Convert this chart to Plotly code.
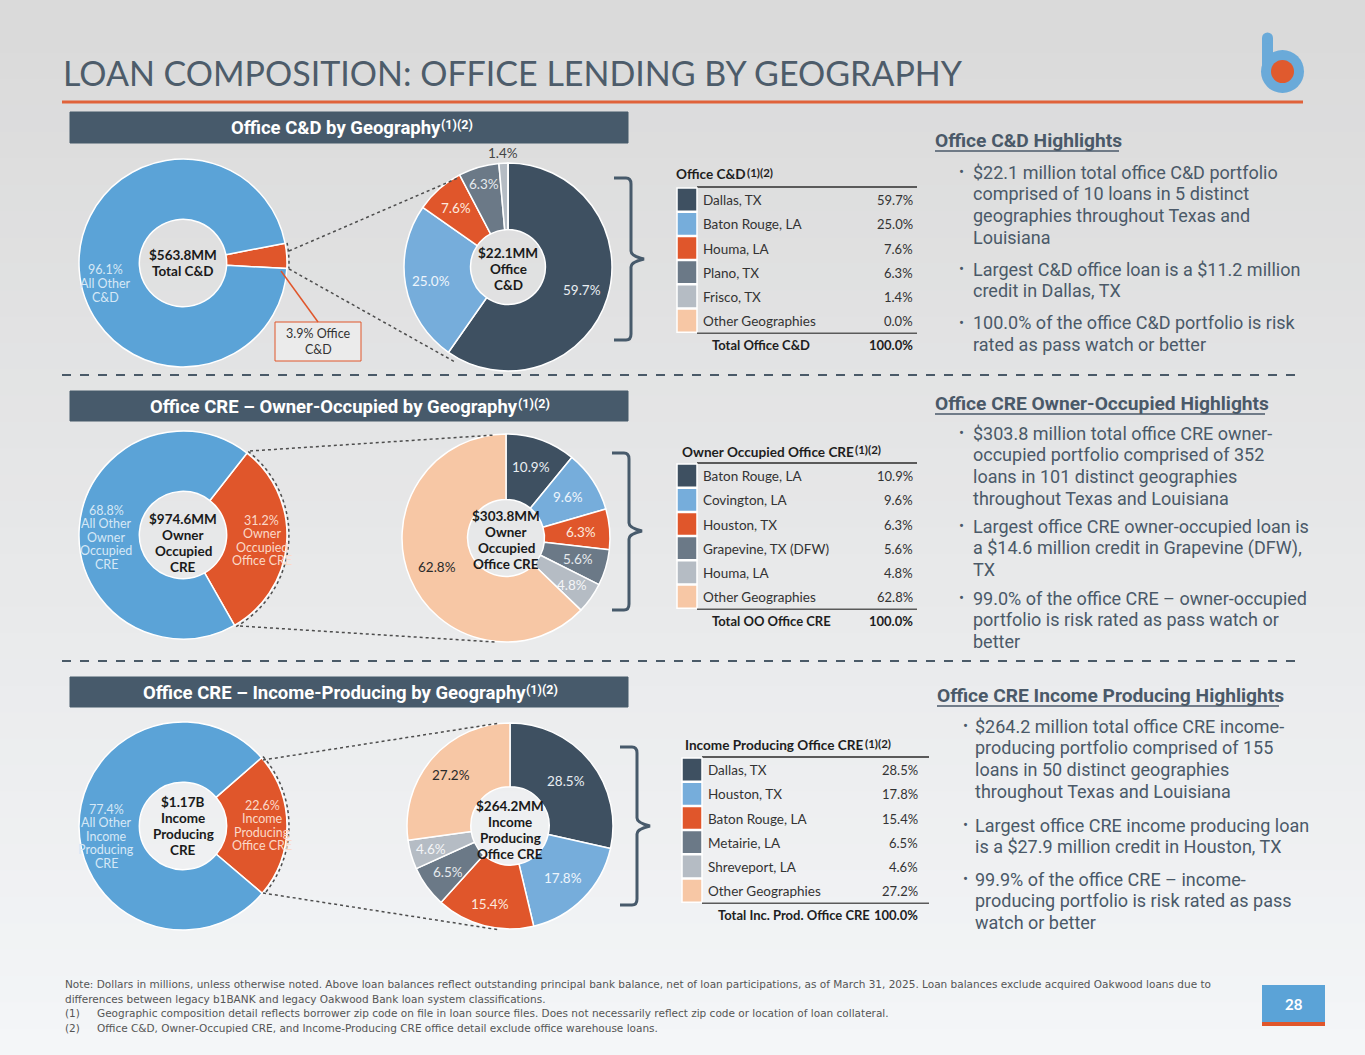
import math
import plotly.graph_objects as go

W, H = 1365, 1055

# ---------------- DATA ----------------
cd_total_labels = ["Office C&D", "All Other C&D"]
cd_total_values = [3.9, 96.1]
cd_geo_labels = ["Dallas, TX", "Baton Rouge, LA", "Houma, LA", "Plano, TX", "Frisco, TX", "Other Geographies"]
cd_geo_values = [59.7, 25.0, 7.6, 6.3, 1.4, 0.0]

oo_total_labels = ["Owner Occupied Office CRE", "All Other Owner Occupied CRE"]
oo_total_values = [31.2, 68.8]
oo_geo_labels = ["Baton Rouge, LA", "Covington, LA", "Houston, TX", "Grapevine, TX (DFW)", "Houma, LA", "Other Geographies"]
oo_geo_values = [10.9, 9.6, 6.3, 5.6, 4.8, 62.8]

ip_total_labels = ["Income Producing Office CRE", "All Other Income Producing CRE"]
ip_total_values = [22.6, 77.4]
ip_geo_labels = ["Dallas, TX", "Houston, TX", "Baton Rouge, LA", "Metairie, LA", "Shreveport, LA", "Other Geographies"]
ip_geo_values = [28.5, 17.8, 15.4, 6.5, 4.6, 27.2]

cd_center = "$563.8MM<br>Total C&D"
cd_geo_center = "$22.1MM<br>Office<br>C&D"
oo_center = "$974.6MM<br>Owner<br>Occupied<br>CRE"
oo_geo_center = "$303.8MM<br>Owner<br>Occupied<br>Office CRE"
ip_center = "$1.17B<br>Income<br>Producing<br>CRE"
ip_geo_center = "$264.2MM<br>Income<br>Producing<br>Office CRE"

cd_left_text = ["", "96.1%<br>All Other<br>C&D"]
cd_callout = "3.9% Office<br>C&D"
oo_left_text = ["31.2%<br>Owner<br>Occupied<br>Office CRE", "68.8%<br>All Other<br>Owner<br>Occupied<br>CRE"]
ip_left_text = ["22.6%<br>Income<br>Producing<br>Office CRE", "77.4%<br>All Other<br>Income<br>Producing<br>CRE"]

cd_highlights = [
    ["$22.1 million total office C&D portfolio", "comprised of 10 loans in 5 distinct",
     "geographies throughout Texas and", "Louisiana"],
    ["Largest C&D office loan is a $11.2 million", "credit in Dallas, TX"],
    ["100.0% of the office C&D portfolio is risk", "rated as pass watch or better"],
]
oo_highlights = [
    ["$303.8 million total office CRE owner-", "occupied portfolio comprised of 352",
     "loans in 101 distinct geographies", "throughout Texas and Louisiana"],
    ["Largest office CRE owner-occupied loan is", "a $14.6 million credit in Grapevine (DFW),", "TX"],
    ["99.0% of the office CRE \u2013 owner-occupied", "portfolio is risk rated as pass watch or", "better"],
]
ip_highlights = [
    ["$264.2 million total office CRE income-", "producing portfolio comprised of 155",
     "loans in 50 distinct geographies", "throughout Texas and Louisiana"],
    ["Largest office CRE income producing loan", "is a $27.9 million credit in Houston, TX"],
    ["99.9% of the office CRE \u2013 income-", "producing portfolio is risk rated as pass", "watch or better"],
]

footnotes = [
    ("", "Note: Dollars in millions, unless otherwise noted. Above loan balances reflect outstanding principal bank balance, net of loan participations, as of March 31, 2025. Loan balances exclude acquired Oakwood loans due to"),
    ("", "differences between legacy b1BANK and legacy Oakwood Bank loan system classifications."),
    ("(1)", "Geographic composition detail reflects borrower zip code on file in loan source files. Does not necessarily reflect zip code or location of loan collateral."),
    ("(2)", "Office C&D, Owner-Occupied CRE, and Income-Producing CRE office detail exclude office warehouse loans."),
]

# ---------------- STYLE ----------------
DARK = "#3e5061"
LBLUE = "#76addb"
BLUE_L = "#5ba3d7"
ORANGE = "#e0562b"
SLATE = "#6b7987"
LGREY = "#b5bcc4"
PEACH = "#f7c7a5"
GEO_COLORS = [DARK, LBLUE, ORANGE, SLATE, LGREY, PEACH]
GEO_TXT = ["#e9eef2", "#eef5fb", "#fde9de", "#e6eaee", "#f4f5f7", "#2b2b2b"]
HEAD = "#475a6b"
TXT = "#4a5968"
FONT = "Lato"
RFONT = "Roboto"


def X(px):
    return px / W


def Y(py):
    return 1 - py / H


fig = go.Figure()
shapes = []
anns = []

n = 40
c0 = (218, 218, 218)
c1 = (244, 246, 248)
for i in range(n):
    t = i / (n - 1)
    col = "rgb(%d,%d,%d)" % tuple(int(c0[k] + (c1[k] - c0[k]) * t) for k in range(3))
    shapes.append(dict(type="rect", xref="paper", yref="paper", layer="below",
                       x0=0, x1=1, y0=Y(H * (i + 1) / n + 1), y1=Y(H * i / n),
                       fillcolor=col, line=dict(width=0)))


def ann(x, y, text, size=12, color="#222", family=FONT, xa="left", ya="middle", weight="normal", align="center"):
    anns.append(dict(x=X(x), y=Y(y), xref="paper", yref="paper", text=text, showarrow=False,
                     xanchor=xa, yanchor=ya, align=align,
                     font=dict(size=size, color=color, family=family, weight=weight)))


def mtext(x, cy, text, spacing, **kw):
    lines = text.split("<br>")
    y0 = cy - (len(lines) - 1) * spacing / 2
    for j, line in enumerate(lines):
        ann(x, y0 + j * spacing, line, **kw)


def add_pie(values, colors, cx, cy, r, hole, rotation, names):
    fig.add_trace(go.Pie(
        values=values, labels=names, marker=dict(colors=colors, line=dict(color="white", width=1.5)),
        hole=hole, sort=False, direction="clockwise", rotation=rotation,
        textinfo="none", hoverinfo="label+value", showlegend=False,
        domain=dict(x=[X(cx - r), X(cx + r)], y=[Y(cy + r), Y(cy - r)]),
    ))


def label_pos(values, rotation, cx, cy, r, factors):
    tot = sum(values)
    cum = rotation
    out = []
    for v, f in zip(values, factors):
        a = cum + v / tot * 180
        cum += v / tot * 360
        ar = math.radians(a)
        out.append((cx + f * r * math.sin(ar), cy - f * r * math.cos(ar)))
    return out


def dotted_arc(cx, cy, r, a0, a1):
    pts = []
    for i in range(25):
        a = math.radians(a0 + (a1 - a0) * i / 24)
        pts.append((cx + r * math.sin(a), cy - r * math.cos(a)))
    p = "M %f %f " % (X(pts[0][0]), Y(pts[0][1])) + " ".join("L %f %f" % (X(a), Y(b)) for a, b in pts[1:])
    shapes.append(dict(type="path", xref="paper", yref="paper", path=p,
                       line=dict(color="#4d4d4d", width=1.5, dash="dot")))


def dline(x0, y0, x1, y1, color="#4d4d4d", width=1.5, dash="dot"):
    shapes.append(dict(type="line", xref="paper", yref="paper", x0=X(x0), y0=Y(y0), x1=X(x1), y1=Y(y1),
                       line=dict(color=color, width=width, dash=dash)))


def rect(x0, y0, x1, y1, fill, lc=None, lw=0):
    shapes.append(dict(type="rect", xref="paper", yref="paper", x0=X(x0), y0=Y(y1), x1=X(x1), y1=Y(y0),
                       fillcolor=fill, line=dict(color=lc or fill, width=lw)))


def bracket(x0, xv, xt, y0, y1, ym):
    p = ("M {a} {b} L {c} {b} Q {d} {b} {d} {e} L {d} {f} Q {d} {g} {h} {i} Q {d} {j} {d} {k} "
         "L {d} {l} Q {d} {m} {c} {m} L {a} {m}").format(
        a=X(x0), b=Y(y0), c=X(xv - 5), d=X(xv), e=Y(y0 + 6), f=Y(ym - 8), g=Y(ym - 3),
        h=X(xt), i=Y(ym), j=Y(ym + 3), k=Y(ym + 8), l=Y(y1 - 6), m=Y(y1))
    shapes.append(dict(type="path", xref="paper", yref="paper", path=p, line=dict(color=HEAD, width=3)))


def header(y0, y1, text, x_end):
    shapes.append(dict(type="rect", xref="paper", yref="paper", x0=X(70), x1=X(628), y0=Y(y1), y1=Y(y0),
                       fillcolor=HEAD, line=dict(color=HEAD, width=1)))
    ym = (y0 + y1) / 2 + 1
    ann(x_end, ym, text, size=18.5, color="white", family=RFONT, xa="right", weight="bold")
    ann(x_end - 4, ym - 4, "(1)(2)", size=12.5, color="white", family=RFONT, xa="left", weight="bold")


def table(sx0, sx1, top, rh, title, ty, t_end, labels, values, total_label, total_x, pr, rx1):
    ann(t_end, ty, title, size=13.6, color="#1e1e1e", xa="right", weight="bold")
    ann(t_end - 3, ty - 2, "(1)(2)", size=11.5, color="#1e1e1e", xa="left", weight="bold")
    dline(sx1, top, rx1, top, color="#5a5a5a", width=2, dash="solid")
    for i, (lab, v) in enumerate(zip(labels, values)):
        y0 = top + i * rh
        rect(sx0, y0 + 1, sx1, y0 + rh, GEO_COLORS[i], "white", 1.5)
        ann(sx1 + 4, y0 + rh / 2 + 1, lab, size=13.5, color="#333")
        ann(pr, y0 + rh / 2 + 1, "%.1f%%" % v, size=13, color="#333", xa="right")
    bot = top + 6 * rh
    dline(sx1, bot + 1, rx1, bot + 1, color="#5a5a5a", width=1.5, dash="solid")
    ann(total_x, bot + 13, total_label, size=13, color="#1e1e1e", weight="bold")
    ann(pr, bot + 13, "%.1f%%" % sum(values), size=13, color="#1e1e1e", xa="right", weight="bold")


def highlights(hx, hy, title, ul_end, items, bx, tx, starts):
    ann(hx, hy, title, size=19.2, color=TXT, family=RFONT, weight="bold")
    dline(hx + 2, hy + 11, ul_end, hy + 11, color=TXT, width=1.5, dash="solid")
    lh = 21.8
    for lines, y in zip(items, starts):
        ann(bx, y, "\u2022", size=15, color=TXT, family=RFONT)
        for j, line in enumerate(lines):
            ann(tx, y + j * lh, line, size=18, color=TXT, family=RFONT)


# ---------------- TITLE / LOGO ----------------
ann(61, 72, "LOAN COMPOSITION: OFFICE LENDING BY GEOGRAPHY", size=34, color="#4d5c6a", family="Lato")
dline(62, 102, 1303, 102, color="#e0623a", width=3, dash="solid")
shapes.append(dict(type="circle", xref="paper", yref="paper", x0=X(1261), x1=X(1304), y0=Y(93), y1=Y(50),
                   fillcolor="#6aaad9", line=dict(width=0)))
rect(1262, 38, 1273, 72, "#6aaad9")
shapes.append(dict(type="circle", xref="paper", yref="paper", x0=X(1262), x1=X(1273), y0=Y(43.5), y1=Y(32.5),
                   fillcolor="#6aaad9", line=dict(width=0)))
shapes.append(dict(type="circle", xref="paper", yref="paper", x0=X(1271), x1=X(1294), y0=Y(83), y1=Y(60),
                   fillcolor="#e05a2e", line=dict(width=0)))

CEN = dict(size=13.5, color="#1a1a1a", xa="center", weight="bold")
LEFTLAB = dict(size=12.5, xa="center")

# ---------------- SECTION 1: C&D ----------------
header(112, 143, "Office C&D by Geography", 443)
L1 = (183, 263, 104)
R1 = (508, 267, 104)
add_pie(cd_total_values, [ORANGE, BLUE_L], *L1, 0.42, 79, cd_total_labels)
add_pie(cd_geo_values, GEO_COLORS, *R1, 0.36, 0, cd_geo_labels)
mtext(L1[0], L1[1], cd_center, 17, **CEN)
mtext(R1[0], R1[1] + 2, cd_geo_center, 16, **CEN)
for (x, y), t in zip(label_pos(cd_total_values, 79, *L1, [0.75, 0.75]), cd_left_text):
    if t:
        mtext(x, y + 15, t, 14, color="#d6e8f6", **LEFTLAB)
for (x, y), v, c, f in zip(label_pos(cd_geo_values, 0, *R1, [0.75, 0.75, 0.75, 0.83, 1.1, 1.0]),
                           cd_geo_values, GEO_TXT, [0, 0, 0, 0, 1, 0]):
    if v > 0:
        ann(x, y, "%.1f%%" % v, size=13.5, color="#444" if f else c, xa="center")
rect(275, 322, 361, 361, "#ebebeb", ORANGE, 1)
mtext(318, 341.5, cd_callout, 15, size=12.5, color="#333", xa="center")
dline(281, 271, 318, 322, color=ORANGE, width=1.5, dash="solid")
dline(289, 251, 458, 178)
dline(289, 269, 455, 362)
dotted_arc(L1[0], L1[1], L1[2] + 2, 79, 93)
bracket(614, 631, 644, 178, 340, 259)
table(677, 697, 187, 24.2, "Office C&D", 174, 748, cd_geo_labels, cd_geo_values, "Total Office C&D", 710, 915, 917)
highlights(933, 140, "Office C&D Highlights", 1119, cd_highlights, 957, 971, [172, 269, 323])

dline(62, 375, 1300, 375, color="#4a5a68", width=2, dash="dash")

# ---------------- SECTION 2: OO ----------------
header(391, 421, "Office CRE \u2013 Owner-Occupied by Geography", 520)
L2 = (183, 535, 104)
R2 = (506, 538, 104)
add_pie(oo_total_values, [ORANGE, BLUE_L], *L2, 0.42, 38, oo_total_labels)
add_pie(oo_geo_values, GEO_COLORS, *R2, 0.37, 0, oo_geo_labels)
mtext(L2[0], L2[1] + 8, oo_center, 16, **CEN)
mtext(R2[0], R2[1] + 2, oo_geo_center, 16, **CEN)
for (x, y), t, c, dy in zip(label_pos(oo_total_values, 38, *L2, [0.76, 0.74]), oo_left_text,
                            ["#fbd9c8", "#d6e8f6"], [0, 8]):
    mtext(x, y + dy, t, 13.5, color=c, **LEFTLAB)
for (x, y), v, c in zip(label_pos(oo_geo_values, 0, *R2, [0.72, 0.72, 0.72, 0.72, 0.78, 0.72]), oo_geo_values, GEO_TXT):
    ann(x, y, "%.1f%%" % v, size=13.5, color=c, xa="center")
dline(250, 451, 495, 435)
dline(240, 626, 495, 642)
dotted_arc(L2[0], L2[1], L2[2] + 2, 38, 150)
bracket(612, 629, 642, 453, 610, 531)
table(677, 697, 463, 24.2, "Owner Occupied Office CRE", 452, 856, oo_geo_labels, oo_geo_values, "Total OO Office CRE", 710, 915, 917)
highlights(933, 403, "Office CRE Owner-Occupied Highlights", 1265, oo_highlights, 957, 971, [433, 526, 598])

dline(62, 661, 1300, 661, color="#4a5a68", width=2, dash="dash")

# ---------------- SECTION 3: IP ----------------
header(677, 707, "Office CRE \u2013 Income-Producing by Geography", 528)
L3 = (183, 826, 104)
R3 = (510, 826, 103)
add_pie(ip_total_values, [ORANGE, BLUE_L], *L3, 0.42, 49, ip_total_labels)
add_pie(ip_geo_values, GEO_COLORS, *R3, 0.38, 0, ip_geo_labels)
mtext(L3[0], L3[1], ip_center, 16, **CEN)
mtext(R3[0], R3[1] + 4, ip_geo_center, 16, **CEN)
for (x, y), t, c, dy in zip(label_pos(ip_total_values, 49, *L3, [0.76, 0.74]), ip_left_text,
                            ["#fbd9c8", "#d6e8f6"], [0, 10]):
    mtext(x, y + dy, t, 13.5, color=c, **LEFTLAB)
for (x, y), v, c in zip(label_pos(ip_geo_values, 0, *R3, [0.7, 0.72, 0.78, 0.75, 0.8, 0.76]), ip_geo_values, GEO_TXT):
    ann(x, y, "%.1f%%" % v, size=13.5, color=c, xa="center")
dline(263, 760, 500, 723)
dline(263, 893, 500, 930)
dotted_arc(L3[0], L3[1], L3[2] + 2, 49, 130)
bracket(620, 637, 650, 747, 905, 826)
table(682, 702, 757, 24.2, "Income Producing Office CRE", 745, 866, ip_geo_labels, ip_geo_values, "Total Inc. Prod. Office CRE", 716, 920, 929)
highlights(935, 695, "Office CRE Income Producing Highlights", 1279, ip_highlights, 961, 973, [726, 825, 879])

# ---------------- FOOTNOTES ----------------
for i, (num, t) in enumerate(footnotes):
    y = 984 + i * 14.5
    if num:
        ann(63, y, num, size=10.5, color="#555", family="DejaVu Sans")
        ann(95, y, t, size=10.5, color="#555", family="DejaVu Sans")
    else:
        ann(63, y, t, size=10.5, color="#555", family="DejaVu Sans")

rect(1262, 985, 1325, 1022, "#5ba3d7")
rect(1262, 1022, 1325, 1026, "#e0562b")
ann(1293.5, 1004, "28", size=15, color="white", xa="center", weight="bold")

fig.update_layout(
    width=W, height=H, margin=dict(l=0, r=0, t=0, b=0),
    paper_bgcolor="#e4e4e4", plot_bgcolor="rgba(0,0,0,0)",
    shapes=shapes, annotations=anns, showlegend=False,
)
fig.write_html("out.html", config={"displayModeBar": False},
               post_script="document.body.style.margin='0px';document.body.style.overflow='hidden';")
